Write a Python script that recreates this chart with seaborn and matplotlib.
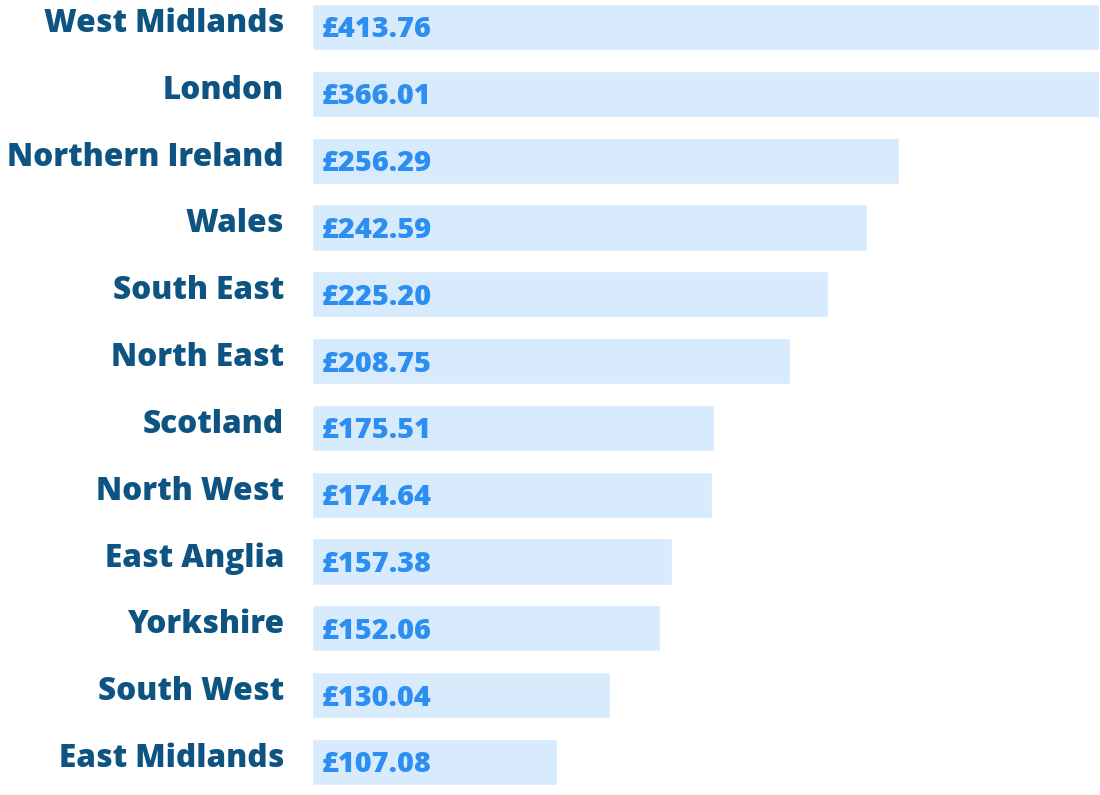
import matplotlib
matplotlib.use("Agg")
import matplotlib.pyplot as plt
import seaborn as sns
import pandas as pd

regions = ["West Midlands", "London", "Northern Ireland", "Wales", "South East",
           "North East", "Scotland", "North West", "East Anglia", "Yorkshire",
           "South West", "East Midlands"]
values = [413.76, 366.01, 256.29, 242.59, 225.20, 208.75, 175.51, 174.64,
          157.38, 152.06, 130.04, 107.08]

df = pd.DataFrame({"region": regions, "value": values})

sns.set_theme(style="white")
plt.rcParams["font.family"] = ["Open Sans", "DejaVu Sans"]

fig = plt.figure(figsize=(11, 7.95), dpi=100)
ax = fig.add_axes([312 / 1100, 0, 787 / 1100, 1])

sns.barplot(data=df, x="value", y="region", orient="h", color="#d7ebfd",
            saturation=1, width=0.69, ax=ax)

ax.set_xlim(0, 343.7)
ax.set_ylim(11.494, -0.404)
for s in ax.spines.values():
    s.set_visible(False)
ax.set_xlabel("")
ax.set_ylabel("")
ax.set_xticks([])
ax.set_yticks([])

for i, r in enumerate(regions):
    ax.annotate(r, xy=(0, i), xytext=(-28, 3), textcoords="offset pixels",
                ha="right", va="center", fontsize=22.7, fontweight="black",
                color="#0e5482", annotation_clip=False)

for i, v in enumerate(values):
    ax.annotate(f"£{v:.2f}", xy=(0, i), xytext=(10, -3), textcoords="offset pixels",
                ha="left", va="center", fontsize=20.8, fontweight="black",
                color="#2d8ef2")

fig.savefig("out.png", dpi=100)
